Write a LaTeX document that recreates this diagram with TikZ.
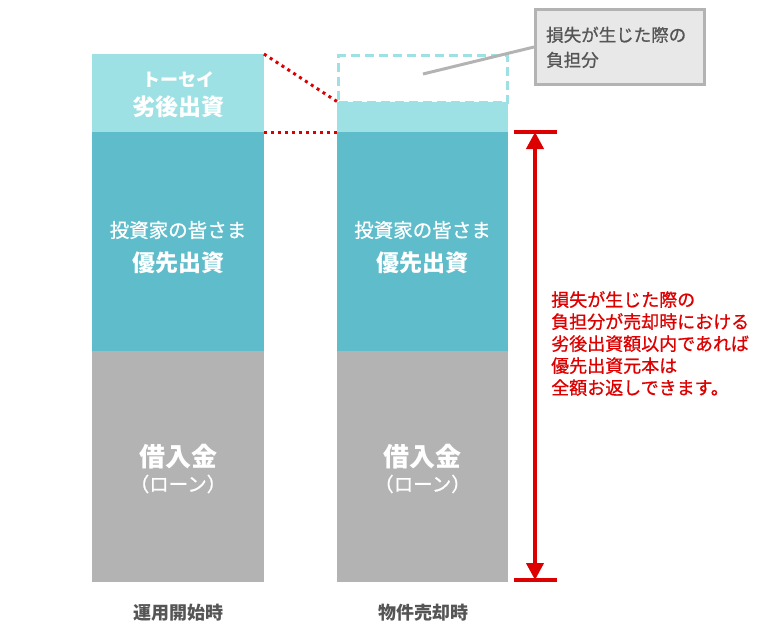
\documentclass[tikz,border=0pt]{standalone}
\usepackage{fontspec}
\newfontfamily\jp{Noto Sans CJK JP}
\newfontfamily\jpm[FakeBold=0.8]{Noto Sans CJK JP}
\usetikzlibrary{arrows.meta}
\definecolor{lteal}{HTML}{9DE1E5}
\definecolor{dteal}{HTML}{5FBDCB}
\definecolor{loan}{HTML}{B3B3B3}
\definecolor{redc}{HTML}{DD0000}
\definecolor{txtgray}{HTML}{555555}
\definecolor{boxfill}{HTML}{E8E8E8}
\definecolor{boxline}{HTML}{B3B3B3}
\begin{document}
\begin{tikzpicture}[x=1pt,y=-1pt,
  block/.style={anchor=north west, inner sep=0pt, outer sep=0pt, minimum width=172pt},
  wsmall/.style={text=white, font=\jpm\fontsize{19.5}{23}\selectfont},
  wbig/.style={text=white, font=\jp\bfseries\fontsize{23}{26}\selectfont},
  wloan/.style={text=white, font=\jp\bfseries\fontsize{26}{28}\selectfont},
  caption/.style={text=txtgray, font=\jp\bfseries\fontsize{18}{20}\selectfont},
  reddot/.style={redc, line width=3pt, dash pattern=on 3pt off 4pt},
  redbar/.style={redc, line width=3.5pt},
  redarrow/.style={redc, line width=4pt, {Triangle[width=17pt,length=17pt]}-{Triangle[width=17pt,length=17pt]}}
]
\useasboundingbox (0,0) rectangle (773,627);
% left column
\node[block, fill=lteal, minimum height=78pt] (sub1) at (92,54) {};
\node[block, fill=dteal, minimum height=219pt] (sen1) at (92,132) {};
\node[block, fill=loan, minimum height=231pt] (loan1) at (92,351) {};
% right column
\node[block, fill=lteal, minimum height=30pt, minimum width=171pt] (sub2) at (337,102) {};
\node[block, fill=dteal, minimum height=219pt, minimum width=171pt] (sen2) at (337,132) {};
\node[block, fill=loan, minimum height=231pt, minimum width=171pt] (loan2) at (337,351) {};
\node[block, minimum height=47pt, minimum width=169pt, draw=lteal, line width=3pt, dash pattern=on 9pt off 5pt] (loss) at (338.5,55.5) {};
% texts
\node[wsmall, font=\jp\bfseries\fontsize{18}{22}\selectfont] (t1) at (178,80) {トーセイ};
\node[wbig] (t2) at (178,107) {劣後出資};
\node[wsmall] (t3) at (178,230) {投資家の皆さま};
\node[wbig] (t4) at (178,263) {優先出資};
\node[wloan] (t5) at (178,457) {借入金};
\node[wsmall] (t6) at (178,484) {（ローン）};
\node[wsmall] (r3) at (422.5,230) {投資家の皆さま};
\node[wbig] (r4) at (422.5,263) {優先出資};
\node[wloan] (r5) at (422.5,457) {借入金};
\node[wsmall] (r6) at (422.5,484) {（ローン）};
\node[caption] (c1) at (178,613) {運用開始時};
\node[caption] (c2) at (423,613) {物件売却時};
% red dotted lines
\draw[reddot] (sub1.north east) -- (loss.south west);
\draw[reddot] (sub1.south east) -- (sen2.north west);
% callout
\node[anchor=north west, minimum width=169pt, minimum height=75pt, fill=boxfill, draw=boxline, line width=3pt, inner sep=0pt] (box) at (534,8) {};
\node[anchor=north west, align=left, inner sep=0pt, text=txtgray, font=\jpm\fontsize{17.5}{25}\selectfont] (boxtext) at (546,26.5) {損失が生じた際の\\負担分};
\coordinate (lossp) at (423,74);
\draw[boxline, line width=3pt] (lossp) -- (box.west);
% red arrow
\coordinate (atop) at (535,132);
\coordinate (abot) at (535,580);
\coordinate (tl) at (514,132);
\coordinate (tr) at (557,132);
\coordinate (bl) at (514,580);
\coordinate (br) at (557,580);
\draw[redbar] (tl) -- (tr);
\draw[redbar] (bl) -- (br);
\draw[redarrow] (atop) -- (abot);
\node[anchor=north west, align=left, inner sep=0pt, text=redc, font=\jpm\fontsize{18}{22}\selectfont] (note) at (551,291) {損失が生じた際の\\負担分が売却時における\\劣後出資額以内であれば\\優先出資元本は\\全額お返しできます。};
\end{tikzpicture}
\end{document}
